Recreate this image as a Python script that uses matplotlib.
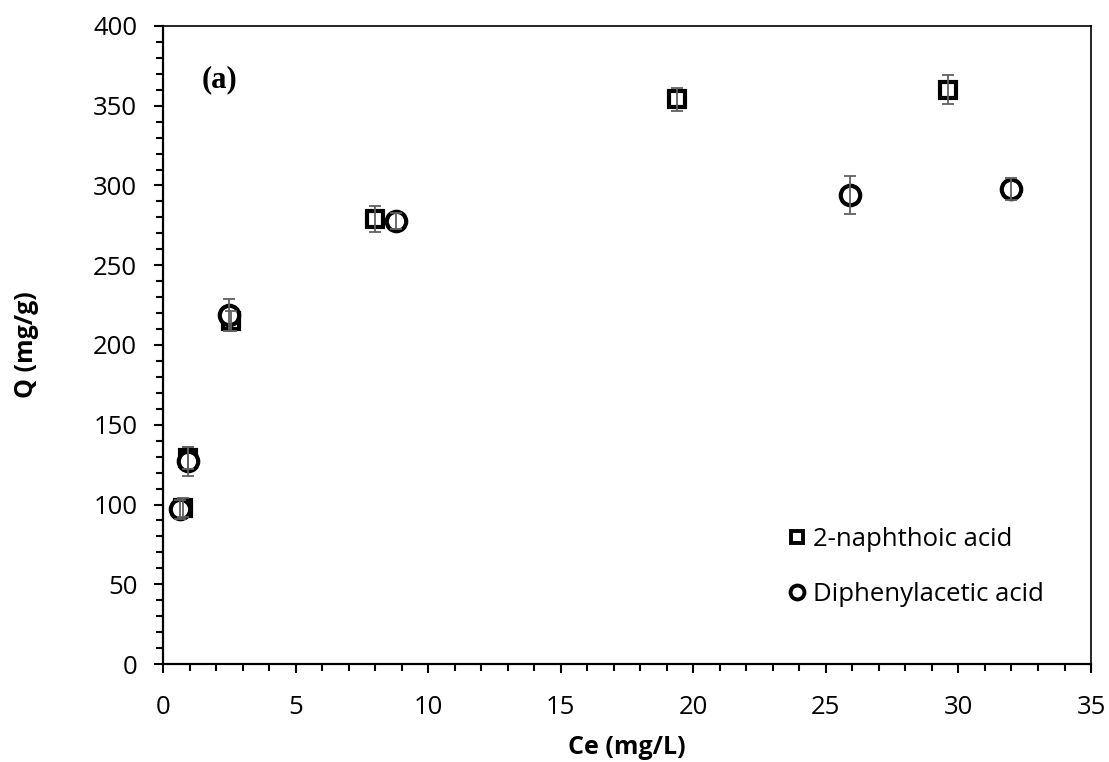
import numpy as np
import matplotlib.pyplot as plt
from matplotlib.lines import Line2D
from matplotlib.ticker import MultipleLocator

# ---------- DATA ----------
# 2-naphthoic acid
ce_naph = [0.75, 0.95, 2.55, 8.0, 19.4, 29.6]
q_naph = [98, 129, 215, 279, 354, 360]
err_naph = [6, 7, 6, 8, 7, 9]

# Diphenylacetic acid
ce_diph = [0.65, 0.95, 2.5, 8.8, 25.9, 32.0]
q_diph = [97, 127, 219, 278, 294, 298]
err_diph = [6, 9, 10, 5, 12, 7]

plt.rcParams['font.family'] = ['Open Sans', 'DejaVu Sans']

fig = plt.figure(figsize=(11.09, 7.62), dpi=100)
ax = fig.add_axes([0.147, 0.1286, 0.8368, 0.8373])

# markers first, error bars on top (gray lines show through the markers)
ax.plot(ce_naph, q_naph, ls='none', marker='s', ms=11.5, mew=3,
        mfc='white', mec='black', zorder=3)
ax.plot(ce_diph, q_diph, ls='none', marker='o', ms=14, mew=3,
        mfc='white', mec='black', zorder=3)
ax.errorbar(ce_naph, q_naph, yerr=err_naph, fmt='none', ecolor='#606060',
            elinewidth=1.3, capsize=4.5, capthick=1.3, zorder=4)
ax.errorbar(ce_diph, q_diph, yerr=err_diph, fmt='none', ecolor='#606060',
            elinewidth=1.3, capsize=4.5, capthick=1.3, zorder=4)

ax.set_xlim(0, 35)
ax.set_ylim(0, 400)
ax.xaxis.set_major_locator(MultipleLocator(5))
ax.xaxis.set_minor_locator(MultipleLocator(1))
ax.yaxis.set_major_locator(MultipleLocator(50))
ax.yaxis.set_minor_locator(MultipleLocator(10))

ax.tick_params(which='both', direction='out', width=1.5, labelsize=18.5, color='black')
ax.tick_params(which='major', length=6.5)
ax.tick_params(which='minor', length=5)
ax.tick_params(axis='x', which='major', pad=15.5)
ax.tick_params(axis='y', which='major', pad=12)
for side in ['left', 'bottom']:
    ax.spines[side].set_linewidth(1.6)
for side in ['top', 'right']:
    ax.spines[side].set_linewidth(1.2)

ax.set_xlabel('Ce (mg/L)', fontsize=18, fontweight='bold')
ax.set_ylabel('Q (mg/g)', fontsize=18, fontweight='bold')
ax.xaxis.set_label_coords(0.5, -0.111)
ax.yaxis.set_label_coords(-0.134, 0.5)

ax.text(1.45, 366, '(a)', fontsize=22, fontweight='bold',
        family='Liberation Serif', va='center', ha='left')

handles = [
    Line2D([], [], ls='none', marker='s', ms=9, mew=2.8, mfc='white', mec='black'),
    Line2D([], [], ls='none', marker='o', ms=10, mew=2.8, mfc='white', mec='black'),
]
ax.legend(handles, ['2-naphthoic acid', 'Diphenylacetic acid'], loc='center left',
          bbox_to_anchor=(0.675, 0.152), frameon=False, fontsize=18.5,
          borderpad=0, borderaxespad=0,
          handlelength=0.6, handletextpad=0.3, labelspacing=1.15)

fig.savefig('out.png', dpi=100)
